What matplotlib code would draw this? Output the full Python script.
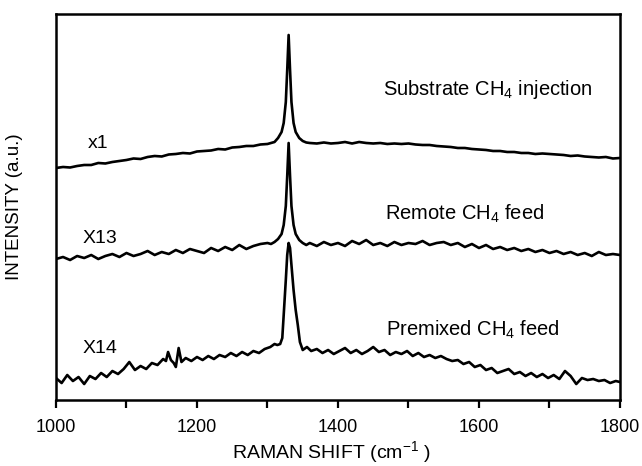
import numpy as np
import matplotlib.pyplot as plt
from matplotlib.ticker import MultipleLocator

plt.rcParams['font.family'] = ['Liberation Sans', 'DejaVu Sans']
plt.rcParams['mathtext.fontset'] = 'custom'
plt.rcParams['mathtext.rm'] = 'Liberation Sans'
plt.rcParams['mathtext.it'] = 'Liberation Sans'

# Raman shift grid for the upper two spectra (cm-1)
x_ab = (list(range(1000, 1300, 10))
        + [1300, 1305, 1310, 1315, 1320, 1323, 1326, 1328, 1330, 1332, 1334, 1337, 1340, 1345, 1350, 1355]
        + list(range(1360, 1801, 10)))

# Substrate CH4 injection (x1)
y_sub = [232, 233, 232.5, 234, 235, 235, 237, 236.5, 238, 239,
         240, 241.5, 241, 243, 244, 243.5, 245.5, 246, 247, 246.5,
         248.5, 249, 249.5, 251, 250.5, 252.5, 253, 254, 254, 255.5,
         256, 257, 258, 262, 268, 277, 298, 330, 365, 330, 298, 277, 268, 262, 259, 257.5,
         257, 256.5, 257.5, 256.5, 257, 258, 256.5, 258, 257, 256.5,
         257, 256, 256.5, 256, 256.5, 255.5, 255, 255, 254, 253.5,
         253, 252, 252, 251, 250.5, 250, 249, 249, 248, 248,
         247, 247, 246, 246.5, 246, 245.5, 245, 244, 244.5, 243.5,
         243, 242.5, 243, 241.5, 242]

# Remote CH4 feed (X13)
y_rem = [141, 143, 140, 144, 142, 145, 141, 144, 146, 143,
         147, 144, 146, 149, 145, 148, 146, 150, 147, 151,
         149, 147, 152, 149, 153, 150, 155, 151, 154, 156,
         157, 156, 158, 161, 166, 175, 194, 224, 257, 224, 194, 175, 166, 160, 157, 155,
         157, 154, 158, 155, 157, 154, 159, 156, 160, 155,
         157, 154, 158, 155, 157, 156, 159, 155, 157, 158,
         155, 157, 153, 156, 152, 155, 151, 153, 150, 152,
         149, 151, 148, 150, 147, 149, 146, 148, 145, 147,
         144, 148, 145, 146, 145]

# Premixed CH4 feed (X14)
x_pre = (list(range(1000, 1153, 8))
         + [1156, 1159, 1163, 1167, 1170, 1174, 1178, 1184]
         + list(range(1192, 1305, 8))
         + [1310, 1314, 1318, 1321, 1323, 1326, 1328, 1330, 1332, 1334, 1337, 1340, 1343, 1346, 1350, 1356]
         + list(range(1362, 1795, 8)) + [1800])
y_pre = [22, 17, 25, 19, 23, 16, 24, 21, 27, 23, 29, 26, 31, 38, 30, 34, 31, 37, 35, 41,
         39, 48, 40, 37, 33, 52, 38, 42,
         39, 43, 40, 44, 41, 45, 43, 47, 44, 48, 45, 49, 47, 51, 53,
         56, 55, 56, 62, 85, 120, 145, 157, 152, 135, 110, 90, 75, 58, 50, 53,
         49, 51, 47, 50, 46, 49, 52, 47, 50, 46,
         49, 53, 48, 50, 45, 48, 46, 49, 44, 47,
         43, 45, 42, 44, 41, 39, 40, 36, 38, 33,
         35, 30, 32, 27, 29, 31, 26, 28, 24, 27,
         23, 26, 22, 25, 21, 29, 24, 16, 22, 20,
         21, 19, 20, 17, 19, 18]

fig = plt.figure(figsize=(6.42, 4.66), dpi=100)
ax = fig.add_axes([0.0872, 0.1416, 0.8785, 0.8284])

for y, xx in [(y_sub, x_ab), (y_rem, x_ab), (y_pre, x_pre)]:
    ax.plot(xx, y, color='black', lw=1.9)

ax.set_xlim(1000, 1800)
ax.set_ylim(0, 386)
ax.set_yticks([])
ax.xaxis.set_major_locator(MultipleLocator(200))
ax.xaxis.set_minor_locator(MultipleLocator(100))
ax.tick_params(axis='x', which='both', direction='out', length=6, width=1.6, labelsize=13, pad=8)
for s in ax.spines.values():
    s.set_linewidth(1.8)

fs = 14
ax.text(1045, 252, 'x1', fontsize=fs)
ax.text(1037, 157, 'X13', fontsize=fs)
ax.text(1037, 47, 'X14', fontsize=fs)
ax.text(1464, 305, r'Substrate CH$_{4}$ injection', fontsize=14.5)
ax.text(1467, 180, r'Remote CH$_{4}$ feed', fontsize=14.5)
ax.text(1468, 64, r'Premixed CH$_{4}$ feed', fontsize=14.5)

ax.set_xlabel(r'RAMAN SHIFT (cm$^{-1}$ )', fontsize=14)
ax.xaxis.set_label_coords(0.489, -0.100)
ax.set_ylabel('INTENSITY (a.u.)', fontsize=13.5)
ax.yaxis.set_label_coords(-0.058, 0.5)

fig.savefig('out.png', dpi=100)
